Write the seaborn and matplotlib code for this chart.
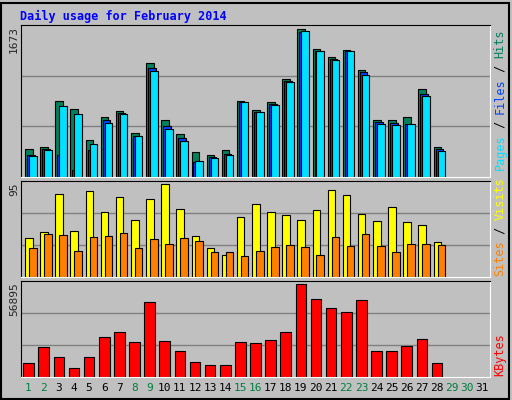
import matplotlib
matplotlib.use("Agg")
import matplotlib.pyplot as plt
import seaborn as sns
import numpy as np

# ========================================
# Data
# ========================================
days = np.arange(1, 29)
hits = [313, 335, 835, 743, 412, 655, 724, 489, 1250, 625, 478, 279, 246, 302,
        835, 735, 820, 1074, 1625, 1405, 1316, 1397, 1173, 625, 625, 655, 974, 335]
files = [239, 305, 239, 74, 294, 625, 702, 456, 1195, 559, 427, 165, 221, 257,
         827, 717, 802, 1055, 1596, 1383, 1298, 1386, 1151, 607, 596, 588, 912, 305]
pages = [228, 302, 776, 688, 368, 599, 688, 456, 1162, 533, 401, 180, 213, 246,
         820, 710, 787, 1044, 1603, 1383, 1283, 1383, 1118, 588, 577, 588, 897, 290]
visits = [39, 45, 82, 46, 85, 64, 79, 56, 77, 92, 67, 41, 29, 22,
          59, 72, 64, 61, 56, 66, 86, 81, 62, 55, 69, 54, 51, 35]
sites = [29, 43, 42, 26, 40, 41, 44, 29, 38, 33, 39, 36, 25, 25,
         21, 26, 30, 32, 30, 22, 40, 31, 43, 31, 25, 33, 33, 32]
kbytes = [8184, 17766, 11778, 5190, 11778, 23754, 26746, 20760, 44714, 21359, 15371, 8783, 6987, 6987,
          20760, 20161, 21958, 26746, 54898, 46511, 41122, 38726, 45912, 15371, 15371, 18365, 22556, 8184]
max_hits, max_visits, max_kb = 1673, 95, 56895
weekend = [1, 2, 8, 9, 15, 16, 22, 23, 29, 30]

# ========================================
# Plot
# ========================================
sns.set_style("white")
plt.rcParams['font.family'] = ['DejaVu Sans Mono']
bg = '#c0c0c0'
fig = plt.figure(figsize=(5.12, 4.0), dpi=100, facecolor=bg)
W, H = 512, 400

def add_ax(top, bottom):
    ax = fig.add_axes([21 / W, 1 - bottom / H, 469 / W, (bottom - top) / H])
    ax.set_facecolor(bg)
    ax.set_xlim(0.5, 31.5)
    for s in ['top', 'left']:
        ax.spines[s].set_color('black')
    for s in ['bottom', 'right']:
        ax.spines[s].set_color('white')
    ax.set_xticks([])
    ax.set_yticks([])
    return ax

ax1 = add_ax(25, 177)
ax2 = add_ax(181, 277)
ax3 = add_ax(281, 377)

for ax, top in [(ax1, max_hits), (ax2, max_visits), (ax3, max_kb)]:
    ax.set_ylim(0, top)
    for g in [top / 3, 2 * top / 3]:
        ax.axhline(g, color='#808080', lw=1, zorder=0)

ew = 0.8
ax1.bar(days - 0.5 + 0.27, hits, width=0.5, align='edge', color='#00805c', edgecolor='black', lw=ew)
ax1.bar(days - 0.5 + 0.40, files, width=0.5, align='edge', color='#0040ff', edgecolor='black', lw=ew)
ax1.bar(days - 0.5 + 0.53, pages, width=0.5, align='edge', color='#00e0ff', edgecolor='black', lw=ew)

ax2.bar(days - 0.5 + 0.27, visits, width=0.5, align='edge', color='#ffff00', edgecolor='black', lw=ew)
ax2.bar(days - 0.5 + 0.53, sites, width=0.5, align='edge', color='#ff8000', edgecolor='black', lw=ew)

sns.barplot(x=days, y=kbytes, native_scale=True, width=0.7, color='#ff0000',
            edgecolor='black', linewidth=ew, saturation=1, ax=ax3)
ax3.set_xlim(0.5, 31.5)
ax3.set_ylim(0, max_kb)
ax3.set_xlabel('')
ax3.set_ylabel('')
ax3.set_xticks([])
ax3.set_yticks([])

# day labels
for d in range(1, 32):
    ax3.text(d, -0.06, str(d), transform=ax3.get_xaxis_transform(), ha='center', va='top',
             fontsize=8, color='#008040' if d in weekend else 'black')

# title
fig.text(20 / W, 1 - 16 / H, 'Daily usage for February 2014', color='#0000ff',
         fontsize=8.5, fontweight='bold', va='center', ha='left')

# max labels on the left
for lab, y in [(str(max_hits), 25), (str(max_visits), 181), (str(max_kb), 281)]:
    fig.text(14 / W, 1 - (y + 1) / H, lab, rotation=90, fontsize=8, ha='center', va='top')

# legends on the right, reading bottom to top
def right_label(parts, y_bottom):
    cw = 7.0
    y = y_bottom
    for txt, col in parts:
        fig.text(500 / W, 1 - y / H, txt, rotation=90, fontsize=8.5, color=col,
                 ha='center', va='bottom')
        y -= cw * len(txt)

right_label([('Pages', '#00e0ff'), (' / ', 'black'), ('Files', '#0040ff'),
             (' / ', 'black'), ('Hits', '#00805c')], 170)
right_label([('Sites', '#ff8000'), (' / ', 'black'), ('Visits', '#ffff00')], 276)
right_label([('KBytes', '#ff0000')], 376)

# outer frame
fig.patches.append(plt.Rectangle((1 / W, 1 / H), 508 / W, 396 / H, transform=fig.transFigure,
                                 fill=False, edgecolor='black', lw=1.5))

plt.savefig('out.png', dpi=100, facecolor=bg)
